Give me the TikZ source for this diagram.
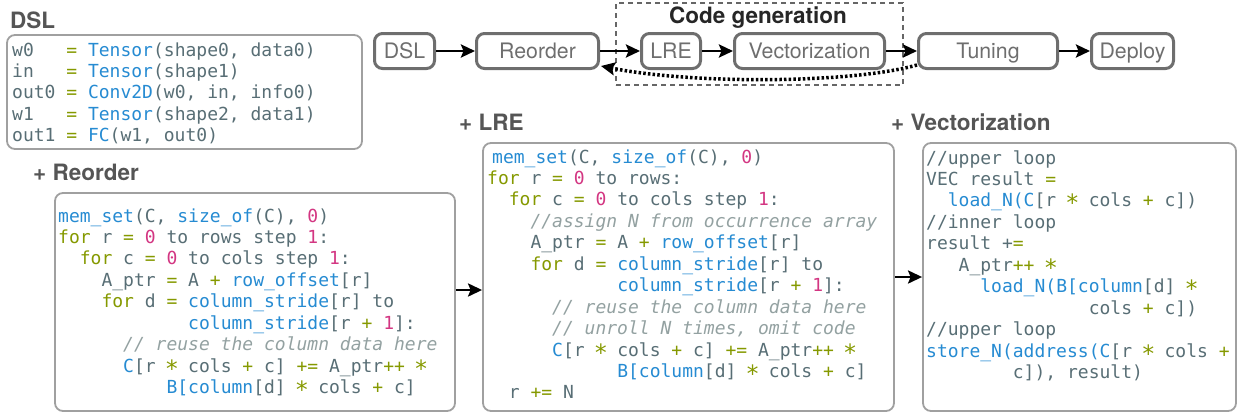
\documentclass[tikz,border=0pt]{standalone}
\usepackage{fontspec}
\setmainfont{TeX Gyre Heros}
\setmonofont{DejaVu Sans Mono}
\usetikzlibrary{arrows.meta}
\definecolor{txt}{HTML}{586E75}
\definecolor{kblue}{HTML}{268BD2}
\definecolor{kgreen}{HTML}{859900}
\definecolor{kmag}{HTML}{D33682}
\definecolor{kcom}{HTML}{93A1A1}
\definecolor{nodegray}{HTML}{6E6E6E}
\definecolor{boxgray}{HTML}{A0A0A0}
\definecolor{headgray}{HTML}{555555}
\definecolor{dashgray}{HTML}{666666}
\newcommand\Bl[1]{\textcolor{kblue}{#1}}
\newcommand\Gr[1]{\textcolor{kgreen}{#1}}
\newcommand\Mg[1]{\textcolor{kmag}{#1}}
\newcommand\Cm[1]{\textcolor{kcom}{\itshape #1}}
\newcommand\St{\makebox[0.60205em]{\scalebox{1.3}{∗}}}
\newcommand\ind[1]{\hspace*{#1\dimexpr0.60205em\relax}}
\newcommand\Ln[1]{\hbox{#1}}
\newcommand\codeblock[1]{\vtop{\baselineskip=21.45pt\lineskiplimit=-100pt\lineskip=0pt\relax #1}}
\tikzset{
  pnode/.style={draw=nodegray, line width=3pt, rounded corners=8pt, text=nodegray,
    font=\fontsize{21.3}{25}\selectfont, minimum height=35pt, inner sep=0pt,
    text height=15.5pt, text depth=0pt},
  cbox/.style={draw=boxgray, line width=1.8pt, rounded corners=8pt, inner sep=0pt},
  head/.style={font=\bfseries\fontsize{22.5}{26}\selectfont, text=headgray, inner sep=0pt, anchor=base west},
  code/.style={font=\ttfamily\fontsize{18}{21.45}\selectfont, text=txt, inner sep=0pt, anchor=base west},
  arr/.style={line width=2.8pt, -{Stealth[length=14pt,width=13pt,inset=2.5pt]}},
  dotarr/.style={line width=3.5pt, dash pattern=on 2.5pt off 2.2pt, -{Stealth[length=14pt,width=13pt,inset=2.5pt]}},
}
\begin{document}
\begin{tikzpicture}[x=1pt,y=-1pt]
\useasboundingbox (0,0) rectangle (1241,418);
% pipeline
\node[pnode, minimum width=60pt] (pdsl) at (404.5,51) {DSL};
\node[pnode, minimum width=122pt] (preo) at (537.5,51) {Reorder};
\node[pnode, minimum width=59pt] (plre) at (671,51) {LRE};
\node[pnode, minimum width=150pt] (pvec) at (809.5,51) {Vectorization};
\node[pnode, minimum width=139pt] (ptun) at (988,51) {Tuning};
\node[pnode, minimum width=82pt] (pdep) at (1132.5,51) {Deploy};
\node[draw=dashgray, line width=1.8pt, dash pattern=on 5pt off 4pt, minimum width=287pt, minimum height=82pt, inner sep=0pt] (cg) at (759.5,44) {};
\node[font=\bfseries\fontsize{22.5}{26}\selectfont, text=black!85, inner sep=0pt, anchor=base] (cgt) at (758,23) {Code generation};
\draw[arr] (pdsl) -- (preo);
\draw[arr] (preo) -- (plre);
\draw[arr] (plre) -- (pvec);
\draw[arr] (pvec) -- (ptun);
\draw[arr] (ptun) -- (pdep);
\draw[dotarr] ([yshift=-14pt]ptun.west) .. controls (850,84) and (690,84) .. ([yshift=-15pt,xshift=1pt]preo.east);
% headings
\node[head] (hdsl) at (10,28) {DSL};
\node[head] (hreo) at (33,180) {+ Reorder};
\node[head] (hlre) at (459,130) {+ LRE};
\node[head] (hvec) at (891,130) {+ Vectorization};
% boxes
\node[cbox, minimum width=355pt, minimum height=114pt] (bdsl) at (184.5,92) {};
\node[cbox, minimum width=400pt, minimum height=218pt] (breo) at (255,302) {};
\node[cbox, minimum width=411pt, minimum height=268pt] (blre) at (688.5,277) {};
\node[cbox, minimum width=313pt, minimum height=268pt] (bvec) at (1079.5,277) {};
\draw[arr] ([yshift=12pt]breo.east) -- ([yshift=-13pt]blre.west);
\draw[arr] (blre) -- (bvec);
% code
\node[code] (cdsl) at (12,56) {\codeblock{%
\Ln{w0\ind{3}\Gr{=} \Bl{Tensor}(shape0, data0)}
\Ln{in\ind{3}\Gr{=} \Bl{Tensor}(shape1)}
\Ln{out0 \Gr{=} \Bl{Conv2D}(w0, in, info0)}
\Ln{w1\ind{3}\Gr{=} \Bl{Tensor}(shape2, data1)}
\Ln{out1 \Gr{=} \Bl{FC}(w1, out0)}}};
\node[code] (creo) at (58,222) {\codeblock{%
\Ln{\Bl{mem\_set}(C, \Bl{size\_of}(C), \Mg{0})}
\Ln{\Gr{for} r \Gr{=} \Mg{0} to rows step \Mg{1}:}
\Ln{\ind{2}\Gr{for} c \Gr{=} \Mg{0} to cols step \Mg{1}:}
\Ln{\ind{4}A\_ptr \Gr{=} A \Gr{+} \Bl{row\_offset}[r]}
\Ln{\ind{4}\Gr{for} d \Gr{=} \Bl{column\_stride}[r] to}
\Ln{\ind{12}\Bl{column\_stride}[r \Gr{+} \Mg{1}]:}
\Ln{\ind{6}\Cm{// reuse the column data here}}
\Ln{\ind{6}\Bl{C}[r \Gr{\St} cols \Gr{+} c] \Gr{+=} A\_ptr\Gr{++} \Gr{\St}}
\Ln{\ind{10}\Bl{B[column}[d] \Gr{\St} cols \Gr{+} c]}}};
\node[code] (clre) at (487,163) {\codeblock{%
\Ln{\hspace*{5pt}\Bl{mem\_set}(C, \Bl{size\_of}(C), \Mg{0})}
\Ln{\Gr{for} r \Gr{=} \Mg{0} to rows:}
\Ln{\ind{2}\Gr{for} c \Gr{=} \Mg{0} to cols step \Mg{1}:}
\Ln{\ind{4}\Cm{//assign N from occurrence array}}
\Ln{\ind{4}A\_ptr \Gr{=} A \Gr{+} \Bl{row\_offset}[r]}
\Ln{\ind{4}\Gr{for} d \Gr{=} \Bl{column\_stride}[r] to}
\Ln{\ind{12}\Bl{column\_stride}[r \Gr{+} \Mg{1}]:}
\Ln{\ind{6}\Cm{// reuse the column data here}}
\Ln{\ind{6}\Cm{// unroll N times, omit code}}
\Ln{\ind{6}\Bl{C}[r \Gr{\St} cols \Gr{+} c] \Gr{+=} A\_ptr\Gr{++} \Gr{\St}}
\Ln{\ind{12}\Bl{B[column}[d] \Gr{\St} cols \Gr{+} c]}
\Ln{\ind{2}r \Gr{+=} N}}};
\node[code] (cvec) at (926,164) {\codeblock{%
\Ln{//upper loop}
\Ln{VEC result \Gr{=}}
\Ln{\ind{2}\Bl{load\_N(C}[r \Gr{\St} cols \Gr{+} c])}
\Ln{//inner loop}
\Ln{result +\Gr{=}}
\Ln{\ind{3}A\_ptr\Gr{++ \St}}
\Ln{\ind{5}\Bl{load\_N(B[column}[d] \Gr{\St}}
\Ln{\ind{15}cols \Gr{+} c])}
\Ln{//upper loop}
\Ln{\Bl{store\_N(address(C}[r \Gr{\St} cols \Gr{+}}
\Ln{\ind{8}c]), result)}}};
\end{tikzpicture}
\end{document}
